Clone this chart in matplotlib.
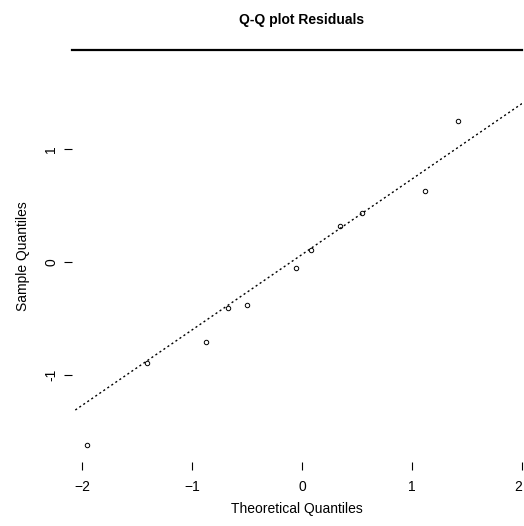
import numpy as np
import matplotlib
matplotlib.use("Agg")
import matplotlib.pyplot as plt

plt.rcParams['font.family'] = ['Liberation Sans', 'DejaVu Sans']

# sample points
theo = [-1.95, -1.41, -0.87, -0.67, -0.50, -0.05, 0.08, 0.35, 0.55, 1.12, 1.42]
sample = [-1.62, -0.89, -0.71, -0.41, -0.38, -0.05, 0.11, 0.32, 0.43, 0.63, 1.25]
# reference line
line_slope = 0.668
line_icpt = 0.066

xticks = [-2, -1, 0, 1, 2]
yticks = [-1, 0, 1]

fig = plt.figure(figsize=(5.24, 5.26), dpi=100)
ax = fig.add_axes([72/524, 1 - 462/526, 450/524, 412/526])

ax.plot(theo, sample, 'o', ms=3.2, mfc='none', mec='black', mew=0.7)
xs = np.array([-2.06, 2.0])
ax.plot(xs, line_icpt + line_slope*xs, color='black', lw=1.0, ls=(0, (1.5, 2)))

ax.set_xlim(-2.09, 2.0)
ax.set_ylim(-1.77, 1.876)
ax.set_xticks(xticks)
ax.set_yticks(yticks)
ax.set_yticklabels([str(t) for t in yticks], rotation=90, va='center')
ax.tick_params(length=6, width=0.8, labelsize=10, pad=7)
ax.tick_params(axis='y', pad=4)
# last x label sits at the figure edge, keep it inside
ax.get_xticklabels()[-1].set_ha('right')
for s in ['left', 'right', 'bottom']:
    ax.spines[s].set_visible(False)
ax.spines['top'].set_linewidth(1.6)

ax.set_xlabel('Theoretical Quantiles', fontsize=10, labelpad=6)
ax.set_ylabel('Sample Quantiles', fontsize=10, labelpad=10)
fig.text(302/524, 1 - 20/526, 'Q-Q plot Residuals', ha='center', va='center',
         fontsize=10, fontweight='bold')

fig.savefig('out.png', dpi=100)
